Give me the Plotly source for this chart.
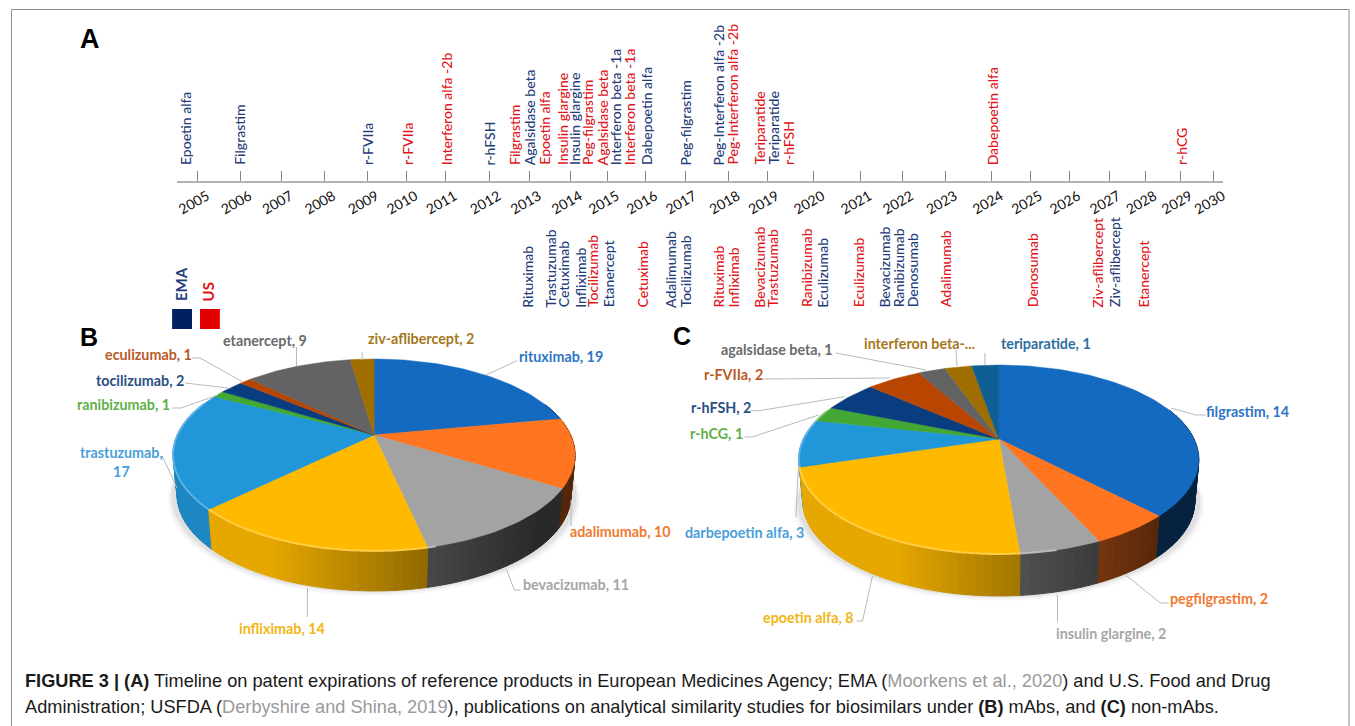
import math
import plotly.graph_objects as go

# ---------- data ----------
years = list(range(2005, 2031))
top_names = ["Epoetin alfa", "Filgrastim", "r-FVIIa", "r-FVIIa", "Interferon alfa -2b", "r-hFSH", "Filgrastim",
             "Agalsidase beta", "Epoetin alfa", "Insulin glargine", "Insulin glargine", "Peg-filgrastim",
             "Agalsidase beta", "Interferon beta -1a", "Interferon beta -1a", "Dabepoetin alfa", "Peg-filgrastim",
             "Peg-Interferon alfa -2b", "Peg-Interferon alfa -2b", "Teriparatide", "Teriparatide", "r-hFSH",
             "Dabepoetin alfa", "r-hCG"]
top_agency = ["EMA", "EMA", "EMA", "US", "US", "EMA", "US", "EMA", "US", "US", "EMA", "US", "US", "EMA", "US", "EMA",
              "EMA", "EMA", "US", "US", "EMA", "US", "US", "US"]
bottom_names = ["Rituximab", "Trastuzumab", "Cetuximab", "Infliximab", "Tocilizumab", "Etanercept", "Cetuximab",
                "Adalimumab", "Tocilizumab", "Rituximab", "Infliximab", "Bevacizumab", "Trastuzumab", "Ranibizumab",
                "Eculizumab", "Eculizumab", "Bevacizumab", "Ranibizumab", "Denosumab", "Adalimumab", "Denosumab",
                "Ziv-aflibercept", "Ziv-aflibercept", "Etanercept"]
bottom_agency = ["EMA", "EMA", "EMA", "EMA", "US", "EMA", "US", "EMA", "EMA", "US", "US", "US", "US", "US", "EMA",
                 "US", "EMA", "EMA", "EMA", "US", "US", "US", "EMA", "US"]

mab_names = ["rituximab", "adalimumab", "bevacizumab", "infliximab", "trastuzumab", "ranibizumab", "tocilizumab",
             "eculizumab", "etanercept", "ziv-aflibercept"]
mab_values = [19, 10, 11, 14, 17, 1, 2, 1, 9, 2]
non_names = ["filgrastim", "pegfilgrastim", "insulin glargine", "epoetin alfa", "darbepoetin alfa", "r-hCG", "r-hFSH",
             "r-FVIIa", "agalsidase beta", "interferon beta-...", "teriparatide"]
non_values = [14, 2, 2, 8, 3, 1, 2, 2, 1, 1, 1]

# ---------- layout constants (pixels of the page) ----------
W, H = 1355, 726
AXIS_END = 1227
tick_px = [197, 239.5, 281, 323.7, 367.3, 406.3, 445.8, 490, 530.5, 571.8, 609, 647.3, 686.7, 730.3, 769.6, 815.4,
           862.7, 904.7, 948.6, 994.9, 1034.2, 1072.7, 1112.8, 1149.3, 1185.1, 1218]
top_x = [184.5, 238, 367, 407, 447, 490, 514.6, 530, 545, 563, 575, 588.5, 603.5, 617, 631, 647.3, 687.5, 720.7, 733.8,
         761, 775, 790, 995.5, 1185.5]
bottom_x = [528, 550.6, 564.7, 581.3, 593.6, 609.4, 644.3, 671.4, 687.5, 720.7, 734.8, 760.7, 773.5, 808.3, 824.4,
            861.3, 886.2, 901, 915.5, 948, 1036, 1101, 1118.3, 1146.5]
AGENCY = {"EMA": "#1f3d7a", "US": "#e0161b"}

FILL = ["#1469c0", "#ff7520", "#a3a3a3", "#ffba00", "#2196d8", "#43a833", "#0a3d80", "#b84500", "#636363", "#a06e00",
        "#0f5f94"]
B_FILL = FILL[:10]
C_FILL = FILL
LABEL_B = ["#2e75c6", "#f0792f", "#a6a6a6", "#f2b514", "#4a9fd8", "#5fb04a", "#2c4f85", "#b85a28", "#6b6b6b", "#a5781b"]
LABEL_C = LABEL_B + ["#2c6f9e"]
B_LAB = [(562, 356), (622, 531), (577, 584), (281, 628), (120, 462), (122, 404), (139, 380), (147, 354), (264, 340),
         (421, 338)]
C_LAB = [(1252, 411), (1223.5, 598), (1115, 633), (811, 617), (746, 532), (718.5, 433), (723, 407), (735, 374),
         (779.5, 349), (922, 343), (1049, 343)]
B_LEAD = [[(518, 360.7), (486.5, 375)], [(572, 526), (572, 500)], [(521, 590), (515, 590), (507, 569)],
          [(307, 617), (307, 588)], [(161, 456), (176, 488)], [(171, 408), (180, 408), (217, 395)],
          [(184, 383), (227, 388)], [(191, 358), (199, 358), (241.6, 381.7)], [(296, 347), (296, 366)],
          [(362, 352), (362, 360)]]
C_LEAD = [[(1210, 415), (1200, 415), (1175, 408)], [(1172.5, 603), (1164.5, 603), (1129.5, 575)],
          [(1061, 622), (1061, 595)], [(859, 621), (865, 621), (875, 576)], [(798, 517), (800.5, 468)],
          [(746.5, 437), (754, 437), (821, 415)], [(753, 410.7), (761, 410.7), (847, 396.7)],
          [(765.5, 379), (892, 378)], [(838, 353), (929, 370)], [(959, 350), (960, 366)], [(988, 353), (988, 365)]]
PIE_B = dict(cx=374, cy=435, a=197.6, b=91.8, k=0.208, depth=40)
PIE_C = dict(cx=1002, cy=439, a=196.2, b=90.0, k=0.217, depth=42)
LEADER = "#b9b9b9"


def rgb(c):
    return tuple(int(c[i:i + 2], 16) for i in (1, 3, 5))


def shade(c, f):
    return "rgb(%d,%d,%d)" % tuple(max(0, min(255, v * f)) for v in rgb(c))


def lighten(c, f):
    return "rgb(%d,%d,%d)" % tuple(v + (255 - v) * f for v in rgb(c))


def proj(t, g):
    u, v = math.sin(t), -math.cos(t)
    w = 1 - g["k"] * v
    return g["cx"] + g["a"] * u / w, g["cy"] + g["b"] * v / w


fig = go.Figure()


def poly(xs, ys, color, lw=1.0):
    fig.add_trace(go.Scatter(x=xs, y=ys, mode="lines", fill="toself", fillcolor=color, hoverinfo="skip",
                             line=dict(color=color, width=lw), showlegend=False))


def draw_pie(values, colors, g):
    total = sum(values)
    edges = [0]
    for v in values:
        edges.append(edges[-1] + v / total * 2 * math.pi)
    # soft ground shadow
    for grow, alpha in ((10, 0.03), (6, 0.04), (3, 0.05)):
        pts = [proj(i / 90 * 2 * math.pi, g) for i in range(91)]
        poly([g["cx"] + (p[0] - g["cx"]) * (1 + grow / 400) for p in pts],
             [p[1] + g["depth"] + grow * 0.5 for p in pts], "rgba(0,0,0,%g)" % alpha, 0)
    # side wall strips, back to front
    strips = []
    for i, col in enumerate(colors):
        n = max(1, int((edges[i + 1] - edges[i]) / math.radians(2)))
        for j in range(n):
            t0 = edges[i] + (edges[i + 1] - edges[i]) * j / n
            t1 = edges[i] + (edges[i + 1] - edges[i]) * (j + 1) / n
            tm = (t0 + t1) / 2
            if -math.cos(tm) > -0.35:
                strips.append((-math.cos(tm), t0, t1, col))
    strips.sort()
    for _, t0, t1, col in strips:
        a, b = proj(t0, g), proj(t1, g)
        xrel = ((a[0] + b[0]) / 2 - g["cx"]) / g["a"]
        f = max(0.33, min(0.9, 0.68 - 0.42 * xrel))
        if col == "#a3a3a3":
            f *= 0.78
        s = 0.98
        poly([a[0], b[0], g["cx"] + (b[0] - g["cx"]) * s, g["cx"] + (a[0] - g["cx"]) * s, a[0]],
             [a[1], b[1], b[1] + g["depth"], a[1] + g["depth"], a[1]], shade(col, f))
    # top faces
    for i, col in enumerate(colors):
        n = max(2, int((edges[i + 1] - edges[i]) / math.radians(1.5)))
        pts = [proj(edges[i] + (edges[i + 1] - edges[i]) * j / n, g) for j in range(n + 1)]
        poly([g["cx"]] + [p[0] for p in pts] + [g["cx"]], [g["cy"]] + [p[1] for p in pts] + [g["cy"]], col, 0.5)
    # bright bevel along the front-left rim
    for _, t0, t1, col in strips:
        a, b = proj(t0, g), proj(t1, g)
        xrel = ((a[0] + b[0]) / 2 - g["cx"]) / g["a"]
        if xrel < 0.3:
            fig.add_trace(go.Scatter(x=[a[0], b[0]], y=[a[1], b[1]], mode="lines", hoverinfo="skip", showlegend=False,
                                     line=dict(color=lighten(col, 0.28), width=2)))


draw_pie(mab_values, B_FILL, PIE_B)
draw_pie(non_values, C_FILL, PIE_C)

# leader lines
for lead in B_LEAD + C_LEAD:
    fig.add_trace(go.Scatter(x=[p[0] for p in lead], y=[p[1] for p in lead], mode="lines", hoverinfo="skip",
                             showlegend=False, line=dict(color=LEADER, width=1)))

# timeline axis carrier
fig.add_trace(go.Scatter(x=tick_px, y=[182] * len(tick_px), xaxis="x2", yaxis="y", mode="markers",
                         marker=dict(opacity=0), hoverinfo="skip", showlegend=False))

ann = []


def text(x, y, s, color="#000", size=13, family="Lato", angle=0, xa="center", ya="middle", weight=None, align="center"):
    f = dict(family=family, size=size, color=color)
    if weight:
        f["weight"] = weight
    ann.append(dict(x=x, y=y, xref="x", yref="y", text=s, showarrow=False, textangle=angle, xanchor=xa, yanchor=ya,
                    font=f, align=align, borderpad=0, borderwidth=0))


for n, ag, x in zip(top_names, top_agency, top_x):
    text(x, 165, n, AGENCY[ag], 14, angle=-90, ya="bottom", weight=500)
for n, ag, x in zip(bottom_names, bottom_agency, bottom_x):
    text(x, 307.5, n, AGENCY[ag], 14, angle=-90, ya="bottom", weight=500)

for n, v, c, (x, y) in zip(mab_names, mab_values, LABEL_B, B_LAB):
    s = f"{n}, {v}" if n != "trastuzumab" else f"{n},<br>{v}"
    text(x, y, s, c, 14.3, weight=700)
for n, v, c, (x, y) in zip(non_names, non_values, LABEL_C, C_LAB):
    s = n if n.endswith("...") else f"{n}, {v}"
    text(x, y, s, c, 14.3, weight=700)

# panel letters
for s, x, y, z in (("A", 88, 38.5, 27), ("B", 87, 337, 25), ("C", 684, 336, 25)):
    text(x, y, s, "#000", z, family="Liberation Sans", weight=700)

# legend
text(180, 301, "EMA", "#1f3d7a", 15, angle=-90, ya="bottom", weight=700)
text(207, 301, "US", "#e0161b", 15, angle=-90, ya="bottom", weight=700)

# caption
GR = "#9a9a9a"
text(23, 681, "<b>FIGURE 3 | (A)</b> Timeline on patent expirations of reference products in European Medicines Agency; "
     f"EMA (<span style='color:{GR}'>Moorkens et al., 2020</span>) and U.S. Food and Drug", "#1a1a1a", 18.2,
     family="Liberation Sans", xa="left", align="left")
text(23, 707, f"Administration; USFDA (<span style='color:{GR}'>Derbyshire and Shina, 2019</span>), publications on "
     "analytical similarity studies for biosimilars under <b>(B)</b> mAbs, and <b>(C)</b> non-mAbs.", "#1a1a1a", 18.2,
     family="Liberation Sans", xa="left", align="left")

shapes = [
    dict(type="rect", xref="x", yref="y", x0=171, x1=191, y0=309, y1=329, fillcolor="#002060", line=dict(width=0)),
    dict(type="rect", xref="x", yref="y", x0=199, x1=219, y0=309, y1=329, fillcolor="#e00000", line=dict(width=0)),
    dict(type="path", xref="x", yref="y", path="M 9.5 726 L 9.5 9.5 L 1354 9.5 L 1354 726",
         line=dict(color="#8c8c8c", width=1)),
]

fig.update_layout(
    width=W, height=H, margin=dict(l=0, r=0, t=0, b=0), paper_bgcolor="white", plot_bgcolor="rgba(0,0,0,0)",
    showlegend=False, annotations=ann, shapes=shapes,
    xaxis=dict(range=[0, W], visible=False, fixedrange=True),
    yaxis=dict(range=[H, 0], visible=False, fixedrange=True),
    xaxis2=dict(domain=[176 / W, AXIS_END / W], range=[176, AXIS_END], anchor="free", position=1 - 182 / H,
                side="bottom", showline=True, linecolor="#b4b4b4", linewidth=1.5, showgrid=False, zeroline=False,
                tickmode="array", tickvals=tick_px, ticktext=[str(y) for y in years], ticks="inside", ticklen=10,
                tickcolor="#8a8a8a", tickwidth=1, tickangle=-30, ticklabelshift=9,
                tickfont=dict(family="Lato", size=14, color="#111"), fixedrange=True),
)
fig.write_html("out.html", config={"displayModeBar": False},
               post_script="document.body.style.margin='0';document.body.style.overflow='hidden';")
